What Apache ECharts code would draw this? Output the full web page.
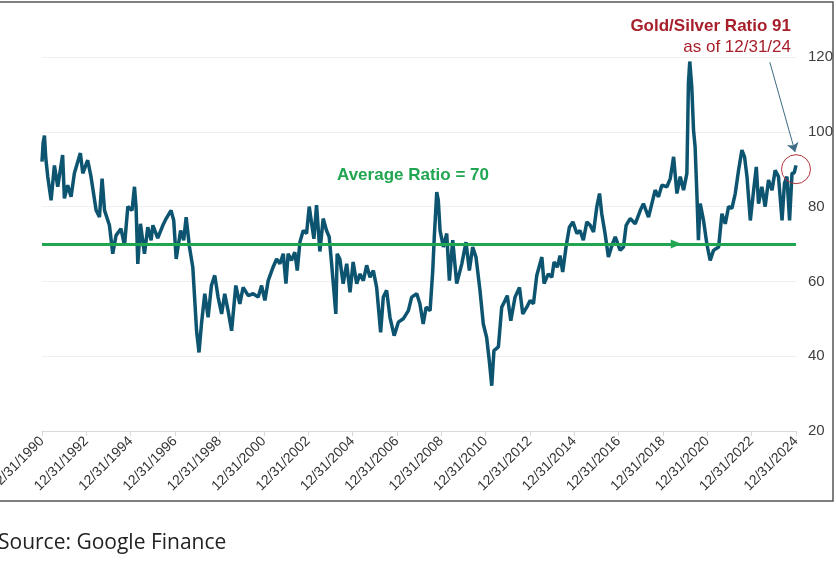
<!DOCTYPE html>
<html>
<head>
<meta charset="utf-8">
<title>Gold/Silver Ratio</title>
<script src="https://cdn.jsdelivr.net/npm/echarts@6/dist/echarts.min.js"></script>
<style>
	html, body { margin: 0; padding: 0; background: #fff; }
	#chart { width: 836px; height: 567px; }
</style>
</head>
<body>
<div id="chart"></div>
<script>
// decimal year of each reading (1991.00 = 12/31/1990)
var years = [
	1991.00, 1991.05, 1991.11, 1991.17, 1991.26, 1991.41, 1991.56, 1991.71, 1991.93, 1992.01,
	1992.16, 1992.31, 1992.46, 1992.73, 1992.84, 1993.06, 1993.21, 1993.44, 1993.59, 1993.71,
	1993.82, 1994.04, 1994.19, 1994.34, 1994.56, 1994.72, 1994.87, 1995.06, 1995.17, 1995.24,
	1995.32, 1995.44, 1995.62, 1995.77, 1995.92, 1996.00, 1996.22, 1996.45, 1996.60, 1996.82,
	1996.94, 1997.05, 1997.25, 1997.39, 1997.50, 1997.65, 1997.80, 1997.97, 1998.08, 1998.19,
	1998.34, 1998.49, 1998.64, 1998.79, 1998.94, 1999.10, 1999.24, 1999.39, 1999.55, 1999.74,
	1999.92, 2000.07, 2000.30, 2000.52, 2000.75, 2000.90, 2001.05, 2001.20, 2001.42, 2001.58,
	2001.73, 2001.88, 2002.00, 2002.10, 2002.25, 2002.40, 2002.51, 2002.63, 2002.78, 2002.93,
	2003.05, 2003.16, 2003.26, 2003.38, 2003.53, 2003.68, 2003.83, 2003.95, 2004.06, 2004.16,
	2004.25, 2004.31, 2004.43, 2004.58, 2004.74, 2004.89, 2005.03, 2005.19, 2005.34, 2005.49,
	2005.64, 2005.79, 2005.94, 2006.09, 2006.27, 2006.39, 2006.54, 2006.69, 2006.88, 2007.07,
	2007.29, 2007.52, 2007.67, 2007.90, 2008.04, 2008.19, 2008.32, 2008.50, 2008.62, 2008.69,
	2008.80, 2008.87, 2008.95, 2009.10, 2009.25, 2009.37, 2009.52, 2009.70, 2009.93, 2010.12,
	2010.27, 2010.42, 2010.57, 2010.75, 2010.90, 2011.05, 2011.17, 2011.28, 2011.38, 2011.58,
	2011.73, 2011.88, 2011.98, 2012.14, 2012.33, 2012.53, 2012.68, 2012.86, 2013.01, 2013.16,
	2013.31, 2013.54, 2013.64, 2013.83, 2013.99, 2014.09, 2014.24, 2014.36, 2014.48, 2014.63,
	2014.78, 2014.94, 2015.12, 2015.26, 2015.41, 2015.57, 2015.72, 2015.87, 2016.02, 2016.14,
	2016.24, 2016.39, 2016.54, 2016.70, 2016.85, 2017.07, 2017.22, 2017.34, 2017.52, 2017.75,
	2017.98, 2018.12, 2018.35, 2018.65, 2018.80, 2018.95, 2019.18, 2019.33, 2019.48, 2019.63,
	2019.78, 2019.93, 2020.08, 2020.15, 2020.21, 2020.30, 2020.38, 2020.45, 2020.53, 2020.60,
	2020.68, 2020.83, 2020.98, 2021.13, 2021.28, 2021.51, 2021.66, 2021.81, 2021.96, 2022.11,
	2022.26, 2022.41, 2022.56, 2022.68, 2022.79, 2022.94, 2023.09, 2023.21, 2023.31, 2023.46,
	2023.61, 2023.76, 2023.92, 2024.06, 2024.21, 2024.37, 2024.48, 2024.59, 2024.71, 2024.82,
	2024.92, 2025.00
];
// gold / silver ratio
var ratio = [
	92, 97, 99, 93, 88, 81.7, 91, 85.3, 93.8, 82.2,
	85.7, 82.6, 88.9, 94.3, 88.9, 92.4, 88, 79, 77.2, 87.5,
	79, 75, 67.4, 72.3, 74.1, 69.6, 80, 79, 85.3, 80,
	64.7, 75.4, 67.4, 74.5, 71, 75, 71.6, 75, 76.8, 79,
	76.3, 66, 73.6, 71, 77.2, 69.2, 63.8, 46.8, 41, 48.6,
	56.7, 50.4, 58.9, 61.6, 55.8, 51.3, 56.7, 52.2, 46.8, 58.9,
	54, 58.4, 56.2, 56.7, 55.8, 58.9, 54.9, 60.2, 63.8, 66,
	64.7, 67.4, 59.4, 67.4, 65.6, 67.8, 62.9, 70.5, 73.6, 72.8,
	80, 75.4, 71.4, 80.4, 68, 76.8, 73.6, 71.9, 64.7, 57.6,
	51.3, 67.4, 66, 59.4, 64.7, 57.1, 65.2, 59.4, 62, 60.2,
	64.3, 61.1, 62.9, 58.4, 46.4, 55.8, 57.6, 50.4, 45.5, 49.1,
	50, 52.2, 55.8, 56.7, 54, 48.6, 53.1, 52.2, 62.9, 71.9,
	83.9, 81.7, 73.6, 69.2, 72.8, 60.2, 71, 59.4, 64.7, 70.5,
	62.9, 69.2, 66.5, 57.6, 48.6, 45, 38.8, 32.1, 41.5, 42.5,
	53.1, 54.9, 56.2, 49.5, 55.8, 58.4, 51.3, 53.1, 54.9, 54,
	61.6, 66.5, 59.4, 62, 61.1, 65.2, 63.8, 66.9, 62.5, 69.2,
	74.5, 75.9, 72.8, 73.6, 71, 75.9, 75, 73.2, 80, 83.5,
	78.1, 72.8, 66.5, 69.6, 71.9, 68.3, 69.2, 75, 76.8, 75.4,
	79, 80.8, 77.2, 84.4, 82.6, 85.7, 85.3, 87.5, 93.3, 83.5,
	88, 84.4, 88.9, 113.1, 118.8, 112, 100.4, 96, 83.5, 71,
	80.8, 76.3, 70, 65.6, 68.3, 69.2, 78.1, 75.4, 80, 79.5,
	83.5, 89.7, 95.1, 93.3, 88, 76.3, 84.4, 90.6, 80.8, 85.3,
	80, 87.1, 84.4, 89.7, 88, 76.3, 86.2, 88, 76.3, 88.9,
	89, 91
];
var tickYears = [1990, 1992, 1994, 1996, 1998, 2000, 2002, 2004, 2006, 2008,
	2010, 2012, 2014, 2016, 2018, 2020, 2022, 2024];
var avgRatio = 70;
var lastRatio = 91;
var lastDate = '12/31/24';

var baseYear = 1991; // 12/31/1990
var points = years.map(function (y, i) {
	return [y - baseYear, ratio[i]];
});
var endT = years[years.length - 1] - baseYear;

var green = '#20a550';
var red = '#a61f2a';
var font = '"Liberation Sans", Arial, sans-serif';

var option = {
	animation: false,
	backgroundColor: '#fff',
	grid: { left: 42, right: 40, top: 57, bottom: 136, containLabel: false, outerBoundsMode: 'none' },
	xAxis: {
		type: 'value',
		min: 0,
		max: 34,
		interval: 2,
		axisLine: { show: true, lineStyle: { color: '#d9d9d9', width: 1 } },
		axisTick: { show: true, length: 5, lineStyle: { color: '#d9d9d9' } },
		splitLine: { show: false },
		axisLabel: {
			rotate: 45,
			margin: 8,
			fontSize: 14,
			color: '#333',
			fontFamily: font,
			formatter: function (v) {
				var y = tickYears[Math.round(v / 2)];
				return y ? '12/31/' + y : '';
			}
		}
	},
	yAxis: {
		type: 'value',
		position: 'right',
		min: 20,
		max: 120,
		interval: 20,
		axisLine: { show: false },
		axisTick: { show: false },
		splitLine: { lineStyle: { color: '#efefef', width: 1 } },
		axisLabel: { margin: 12, fontSize: 15, color: '#404040', fontFamily: font }
	},
	series: [
		{
			type: 'line',
			data: points,
			showSymbol: false,
			lineStyle: { color: '#0d5470', width: 3.5 },
			z: 3,
			markLine: {
				silent: true,
				symbol: ['none', 'none'],
				label: { show: false },
				data: [
					{ yAxis: avgRatio, lineStyle: { color: green, width: 3, type: 'solid' } },
					[
						{ coord: [32.82, 118.6], symbol: 'none', lineStyle: { color: '#3d6c84', width: 1, type: 'solid' } },
						{ coord: [33.96, 94.6], symbol: 'arrow', symbolSize: 9 }
					]
				]
			},
			markPoint: {
				silent: true,
				label: { show: false },
				data: [
					{
						coord: [endT, lastRatio - 1],
						symbol: 'circle',
						symbolSize: 29,
						itemStyle: { color: 'rgba(0,0,0,0)', borderColor: '#b3343c', borderWidth: 1 }
					},
					{
						coord: [28.6, avgRatio],
						symbol: 'triangle',
						symbolRotate: -90,
						symbolSize: [9, 11],
						itemStyle: { color: green }
					}
				]
			}
		}
	],
	graphic: [
		{
			type: 'rect',
			shape: { x: -10, y: 2, width: 843, height: 499 },
			style: { fill: 'none', stroke: '#555', lineWidth: 1.5 },
			silent: true
		},
		{
			type: 'text',
			x: 791, y: 26,
			style: {
				text: 'Gold/Silver Ratio ' + lastRatio,
				fill: red, font: 'bold 17px ' + font,
				textAlign: 'right', textVerticalAlign: 'middle'
			}
		},
		{
			type: 'text',
			x: 791, y: 47,
			style: {
				text: 'as of ' + lastDate,
				fill: red, font: '17px ' + font,
				textAlign: 'right', textVerticalAlign: 'middle'
			}
		},
		{
			type: 'text',
			x: 337, y: 175,
			style: {
				text: 'Average Ratio = ' + avgRatio,
				fill: green, font: 'bold 17px ' + font,
				textAlign: 'left', textVerticalAlign: 'middle'
			}
		},
		{
			type: 'text',
			x: -2, y: 543,
			style: {
				text: 'Source: Google Finance',
				fill: '#222', font: '21px "Open Sans", sans-serif',
				textAlign: 'left', textVerticalAlign: 'middle'
			}
		}
	]
};

var myChart = echarts.init(document.getElementById('chart'));
myChart.setOption(option);
</script>
</body>
</html>
